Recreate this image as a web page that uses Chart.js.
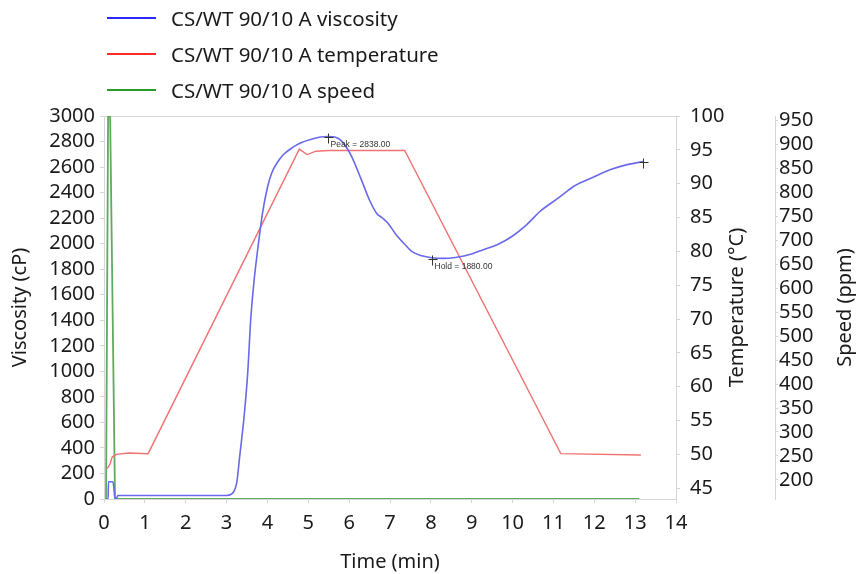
<!DOCTYPE html>
<html>
<head>
<meta charset="utf-8">
<script src="https://cdn.jsdelivr.net/npm/chart.js@4.4.1/dist/chart.umd.min.js"></script>
<style>
  body { margin: 0; background: #fff; }
  #wrap { position: relative; width: 858px; height: 574px; }
  #legend { position: absolute; left: 0; top: 0; font-family: "Noto Sans", sans-serif; font-size: 20.5px; color: #1a1a1a; }
  #legend .row { position: absolute; left: 107px; height: 24px; white-space: nowrap; }
  #legend .swatch { position: absolute; left: 0; top: 11px; width: 49px; height: 0; border-top: 2px solid; }
  #legend .label { position: absolute; left: 64px; top: 0; line-height: 24px; }
</style>
</head>
<body>
<div id="wrap">
  <canvas id="chart" width="858" height="574"></canvas>
  <div id="legend"></div>
</div>
<script>
// Series names
const seriesNames = ['CS/WT 90/10 A viscosity', 'CS/WT 90/10 A temperature', 'CS/WT 90/10 A speed'];

// Viscosity (cP) vs time (min)
const viscTime = [0.05, 0.10, 0.11, 0.22, 0.27, 0.31, 0.34, 1.0, 2.0, 3.0, 3.1, 3.18, 3.25, 3.32, 3.43, 3.52, 3.59, 3.67, 3.76, 3.88,
  4.0, 4.1, 4.25, 4.4, 4.6, 4.82, 5.1, 5.3, 5.48, 5.65, 5.81, 6.05, 6.3, 6.5, 6.68, 6.8, 6.95, 7.15, 7.36, 7.55,
  7.78, 8.02, 8.3, 8.6, 9.0, 9.3, 9.66, 10.0, 10.32, 10.7, 11.14, 11.5, 11.96, 12.4, 12.78, 13.19];
const viscValues = [0, 0, 135, 135, 5, 8, 28, 28, 28, 28, 35, 60, 130, 330, 650, 1000, 1400, 1700, 1950, 2240,
  2440, 2550, 2640, 2700, 2750, 2790, 2820, 2835, 2840, 2835, 2805, 2690, 2500, 2340, 2235, 2205, 2160, 2070, 1995, 1935,
  1905, 1890, 1885, 1892, 1919, 1955, 1997, 2060, 2141, 2260, 2362, 2450, 2518, 2580, 2617, 2643];

// Temperature (°C) vs time (min)
const tempTime = [0.08, 0.15, 0.2, 0.3, 0.6, 1.08, 4.78, 4.97, 5.19, 5.5, 7.36, 11.18, 13.14];
const tempValues = [47.9, 48.6, 49.6, 50.0, 50.2, 50.1, 95.1, 94.3, 94.8, 94.9, 94.9, 50.1, 49.9];

// Speed (rpm) vs time (min)
const speedTime = [0.05, 0.10, 0.15, 0.27, 13.1];
const speedValues = [160, 960, 960, 160, 160];

// Tick labels
const timeTicks = [0, 1, 2, 3, 4, 5, 6, 7, 8, 9, 10, 11, 12, 13, 14];
const viscTicks = [0, 200, 400, 600, 800, 1000, 1200, 1400, 1600, 1800, 2000, 2200, 2400, 2600, 2800, 3000];
const tempTicks = [45, 50, 55, 60, 65, 70, 75, 80, 85, 90, 95, 100];
const speedTicks = [200, 250, 300, 350, 400, 450, 500, 550, 600, 650, 700, 750, 800, 850, 900, 950];

// Annotated points on the viscosity curve
const markerTime = [5.48, 8.02, 13.19];
const markerValue = [2838, 1880, 2643];
const markerLabel = ['Peak = 2838.00', 'Hold = 1880.00', ''];

const lineColors = ['rgb(105,105,235)', 'rgb(240,115,115)', 'rgb(95,170,95)'];
const legendColors = ['#2a2aff', '#ff2a2a', '#2a9a2a'];

const zip = (xs, ys) => xs.map((x, i) => ({ x: x, y: ys[i] }));

// HTML legend
const legend = document.getElementById('legend');
seriesNames.forEach((name, i) => {
    const row = document.createElement('div');
    row.className = 'row';
    row.style.top = (6 + i * 36) + 'px';
    row.innerHTML = `<span class="swatch" style="border-color:${legendColors[i]}"></span><span class="label">${name}</span>`;
    legend.appendChild(row);
});

const FONT = '"Noto Sans", sans-serif';
const frameColor = '#d6d6d6';

const frame = {
    id: 'frame',
    beforeDatasetsDraw(chart) {
        const a = chart.chartArea;
        const ctx = chart.ctx;
        ctx.save();
        ctx.strokeStyle = frameColor;
        ctx.lineWidth = 1;
        ctx.strokeRect(a.left + 0.5, a.top + 0.5, a.right - a.left, a.bottom - a.top);
        ctx.restore();
    },
    afterDraw(chart) {
        const ctx = chart.ctx;
        const x = chart.scales.x;
        const yv = chart.scales.y;
        const a = chart.chartArea;
        const midY = (a.top + a.bottom) / 2;
        ctx.save();
        // markers
        ctx.strokeStyle = '#333';
        ctx.fillStyle = '#333';
        ctx.lineWidth = 1;
        ctx.font = '8.5px "Liberation Sans", sans-serif';
        ctx.textBaseline = 'middle';
        markerTime.forEach((t, i) => {
            const px = Math.round(x.getPixelForValue(t)) + 0.5;
            const py = Math.round(yv.getPixelForValue(markerValue[i])) + 0.5;
            ctx.beginPath();
            ctx.moveTo(px - 4, py); ctx.lineTo(px + 5, py);
            ctx.moveTo(px, py - 4); ctx.lineTo(px, py + 6);
            ctx.stroke();
            if (markerLabel[i]) ctx.fillText(markerLabel[i], px + 2, py + 7);
        });
        // right-side axis titles, reading bottom to top
        ctx.fillStyle = '#1a1a1a';
        ctx.font = '20px ' + FONT;
        ctx.textAlign = 'center';
        ctx.textBaseline = 'middle';
        [['temp', 'Temperature (°C)', 61], ['speed', 'Speed (ppm)', 70]].forEach(([id, text, off]) => {
            const s = chart.scales[id];
            ctx.save();
            ctx.translate(s.left + off, midY);
            ctx.rotate(-Math.PI / 2);
            ctx.fillText(text, 0, 0);
            ctx.restore();
        });
        ctx.restore();
    }
};

const tickFont = { family: FONT, size: 20 };
const plain = (v) => String(v);
const setTicks = (list) => (scale) => { scale.ticks = list.map(v => ({ value: v })); };

new Chart(document.getElementById('chart'), {
    type: 'line',
    data: {
        datasets: [
            { label: seriesNames[0], data: zip(viscTime, viscValues), yAxisID: 'y', borderColor: lineColors[0], borderWidth: 1.6, cubicInterpolationMode: 'monotone' },
            { label: seriesNames[1], data: zip(tempTime, tempValues), yAxisID: 'temp', borderColor: lineColors[1], borderWidth: 1.4, tension: 0 },
            { label: seriesNames[2], data: zip(speedTime, speedValues), yAxisID: 'speed', borderColor: lineColors[2], borderWidth: 1.8, tension: 0 }
        ]
    },
    options: {
        responsive: false,
        animation: false,
        events: [],
        elements: { point: { radius: 0 } },
        layout: { padding: { top: 116, left: 0, right: 0, bottom: 0 } },
        plugins: { legend: { display: false }, tooltip: { enabled: false } },
        scales: {
            x: {
                type: 'linear', min: 0, max: 14,
                afterBuildTicks: setTicks(timeTicks),
                afterFit: (s) => { s.height = 75; },
                border: { display: false },
                grid: { drawOnChartArea: false, tickLength: 4, color: frameColor },
                ticks: { font: tickFont, color: '#1a1a1a', padding: 8, maxRotation: 0, autoSkip: false, callback: plain },
                title: { display: true, text: 'Time (min)', font: tickFont, color: '#1a1a1a', padding: { top: 0, bottom: 0 } }
            },
            y: {
                position: 'left', min: 0, max: 3000,
                afterBuildTicks: setTicks(viscTicks),
                afterFit: (s) => { s.width = 104; },
                border: { display: false },
                grid: { drawOnChartArea: false, tickLength: 4, color: frameColor },
                ticks: { font: tickFont, color: '#1a1a1a', padding: 5, autoSkip: false, callback: plain },
                title: { display: true, text: 'Viscosity (cP)', font: tickFont, color: '#1a1a1a', padding: { top: 8, bottom: 0 } }
            },
            temp: {
                position: 'right', min: 43.4, max: 100,
                afterBuildTicks: setTicks(tempTicks),
                afterFit: (s) => { s.width = 99; },
                border: { display: false },
                grid: { drawOnChartArea: false, tickLength: 4, color: frameColor },
                ticks: { font: tickFont, color: '#1a1a1a', padding: 10, autoSkip: false, callback: plain }
            },
            speed: {
                position: 'right', min: 160, max: 960,
                afterBuildTicks: setTicks(speedTicks),
                afterFit: (s) => { s.width = 83; },
                border: { display: true, color: frameColor },
                grid: { drawOnChartArea: false, tickLength: 3, color: frameColor },
                ticks: { font: tickFont, color: '#1a1a1a', padding: 1, autoSkip: false, callback: plain }
            }
        }
    },
    plugins: [frame]
});
</script>
</body>
</html>
